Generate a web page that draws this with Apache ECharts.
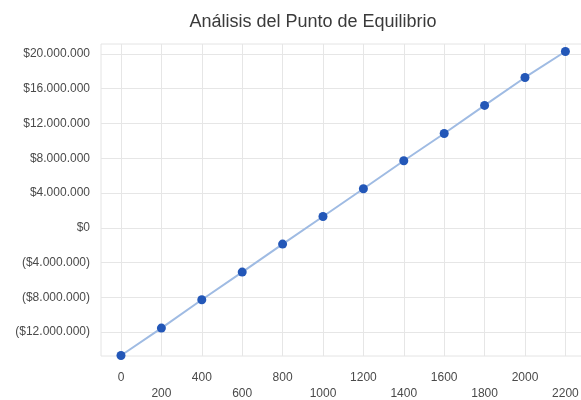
<!DOCTYPE html>
<html>
<head>
<meta charset="utf-8">
<script src="https://cdn.jsdelivr.net/npm/echarts@6/dist/echarts.min.js"></script>
<style>
  html, body { margin: 0; padding: 0; background: #fff; }
  #chart { width: 581px; height: 400px; }
</style>
</head>
<body>
<div id="chart"></div>
<script>
// Units sold (x) and resulting profit / loss in pesos (y)
const unidades = [0, 200, 400, 600, 800, 1000, 1200, 1400, 1600, 1800, 2000, 2200];
const utilidad = [-14700000, -11550000, -8290000, -5100000, -1880000, 1300000,
                  4490000, 7710000, 10850000, 14080000, 17300000, 20290000];
const yTicks = [-12000000, -8000000, -4000000, 0, 4000000, 8000000, 12000000, 16000000, 20000000];

function formatoPesos(v) {
  const s = Math.abs(v).toFixed(0).replace(/\B(?=(\d{3})+(?!\d))/g, '.');
  return v < 0 ? '($' + s + ')' : '$' + s;
}

const chart = echarts.init(document.getElementById('chart'), null, { renderer: 'canvas' });
const font = 'Liberation Sans, Arial, sans-serif';

chart.setOption({
  animation: false,
  backgroundColor: '#ffffff',
  title: {
    text: 'Análisis del Punto de Equilibrio',
    left: 308,
    textAlign: 'center',
    top: 8,
    textStyle: { fontFamily: font, fontSize: 18, fontWeight: 'normal', color: '#3a3a3a' }
  },
  grid: {
    left: 101, top: 44, width: 485, height: 312,
    outerBoundsMode: 'none',
    containLabel: false,
    show: true, borderColor: '#e4e4e4', borderWidth: 1
  },
  xAxis: {
    type: 'value',
    min: -99,
    max: 2302,
    axisLine: { show: false },
    axisTick: { show: false, customValues: unidades },
    splitLine: { show: true, lineStyle: { color: '#e6e6e6', width: 1 } },
    axisLabel: {
      customValues: unidades,
      margin: 13,
      fontFamily: font,
      fontSize: 12,
      lineHeight: 16.5,
      color: '#4a4a4a',
      formatter: (v) => (unidades.indexOf(v) % 2 === 1 ? '\n' + v : String(v))
    }
  },
  yAxis: {
    type: 'value',
    min: -14760000,
    max: 21150000,
    axisLine: { show: false },
    axisTick: { show: false, customValues: yTicks },
    splitLine: { show: true, lineStyle: { color: '#e6e6e6', width: 1 } },
    axisLabel: {
      customValues: yTicks,
      margin: 11,
      fontFamily: font,
      fontSize: 12,
      color: '#4a4a4a',
      formatter: formatoPesos
    }
  },
  series: [{
    type: 'line',
    data: unidades.map((u, i) => [u, utilidad[i]]),
    symbol: 'circle',
    symbolSize: 9,
    clip: false,
    lineStyle: { color: '#9fbbe3', width: 2 },
    itemStyle: { color: '#2357b8' }
  }]
});
</script>
</body>
</html>
